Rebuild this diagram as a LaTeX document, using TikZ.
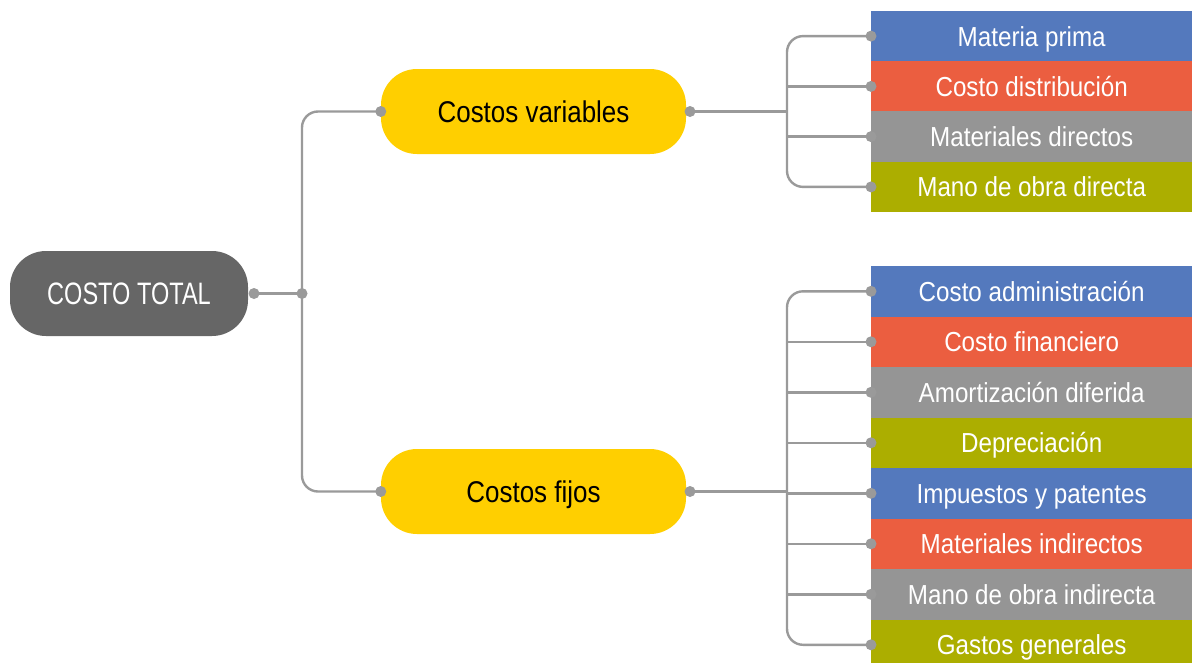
\documentclass[tikz,border=0pt]{standalone}
\usepackage{fontspec}
\setmainfont{Liberation Sans}
\newfontfamily\leaffont[FakeStretch=0.88]{Liberation Sans}
\newfontfamily\midfont[FakeStretch=0.865]{Liberation Sans}
\newfontfamily\capsfont[FakeStretch=0.76]{Liberation Sans}
\definecolor{cblue}{HTML}{5479BD}
\definecolor{cred}{HTML}{EB5E40}
\definecolor{cgray}{HTML}{959595}
\definecolor{colive}{HTML}{ACAE00}
\definecolor{cyellow}{HTML}{FFCF00}
\definecolor{cdark}{HTML}{666666}
\definecolor{cline}{HTML}{9A9A9A}
\tikzset{
  leaf/.style={fill=#1, text=white, anchor=west, minimum width=321pt, minimum height=50.6pt, inner sep=0pt, text height=20pt, text depth=0pt, font=\leaffont\fontsize{27.5}{30}\selectfont},
  midbox/.style={fill=cyellow, text=black, rounded corners=36pt, minimum width=305pt, minimum height=85pt, inner sep=0pt, text height=22pt, text depth=0pt, font=\midfont\fontsize{30}{32}\selectfont},
  rootbox/.style={fill=cdark, text=white, rounded corners=36pt, minimum width=238pt, minimum height=85pt, inner sep=0pt, text height=21.5pt, text depth=0pt, font=\capsfont\fontsize{31}{33}\selectfont},
  conn/.style={draw=cline, line width=2.4pt},
  dotc/.style={fill=cline}
}
\begin{document}
\begin{tikzpicture}[x=1pt,y=-1pt]
\useasboundingbox (0,0) rectangle (1192,662);
\clip (0,0) rectangle (1192,662);
% nodes
\node[rootbox] (tot) at (129,293.5) {COSTO TOTAL};
\node[midbox] (cv) at (533.5,111.5) {Costos variables};
\node[midbox] (cf) at (533.5,491.5) {Costos fijos};
\node[leaf=cblue]  (m1) at (871,36.1)  {Materia prima};
\node[leaf=cred]   (m2) at (871,86.4)  {Costo distribución};
\node[leaf=cgray]  (m3) at (871,136.6) {Materiales directos};
\node[leaf=colive] (m4) at (871,186.9) {Mano de obra directa};
\node[leaf=cblue]  (f1) at (871,291.3) {Costo administración};
\node[leaf=cred]   (f2) at (871,341.8) {Costo financiero};
\node[leaf=cgray]  (f3) at (871,392.3) {Amortización diferida};
\node[leaf=colive] (f4) at (871,442.8) {Depreciación};
\node[leaf=cblue]  (f5) at (871,493.3) {Impuestos y patentes};
\node[leaf=cred]   (f6) at (871,543.8) {Materiales indirectos};
\node[leaf=cgray]  (f7) at (871,594.3) {Mano de obra indirecta};
\node[leaf=colive] (f8) at (871,644.8) {Gastos generales};
% junction coordinates
\coordinate (tj) at (302,293.5);
\coordinate (tv) at (787,111.5);
\coordinate (fv) at (787,491.5);
\coordinate (td) at (254,293.5);
\coordinate (cvd) at (690,111.5);
\coordinate (cfd) at (690,491.5);
% connectors
\draw[conn] (td) -- (tj);
\draw[conn, rounded corners=16pt] (cv.west) -| (tj) |- (cf.west);
\draw[conn] (cvd) -- (tv);
\draw[conn, rounded corners=16pt] (m1.west) -| (tv) |- (m4.west);
\draw[conn] (m2.west) -- (m2.west -| tv);
\draw[conn] (m3.west) -- (m3.west -| tv);
\draw[conn] (cfd) -- (fv);
\draw[conn, rounded corners=16pt] (f1.west) -| (fv) |- (f8.west);
\foreach \n in {f2,f3,f4,f5,f6,f7} {\draw[conn] (\n.west) -- (\n.west -| fv);}
% dots
\foreach \p in {td,tj,cv.west,cf.west,cvd,cfd,m1.west,m2.west,m3.west,m4.west,f1.west,f2.west,f3.west,f4.west,f5.west,f6.west,f7.west,f8.west}
  {\fill[dotc] (\p) circle (5.5pt);}
\end{tikzpicture}
\end{document}
